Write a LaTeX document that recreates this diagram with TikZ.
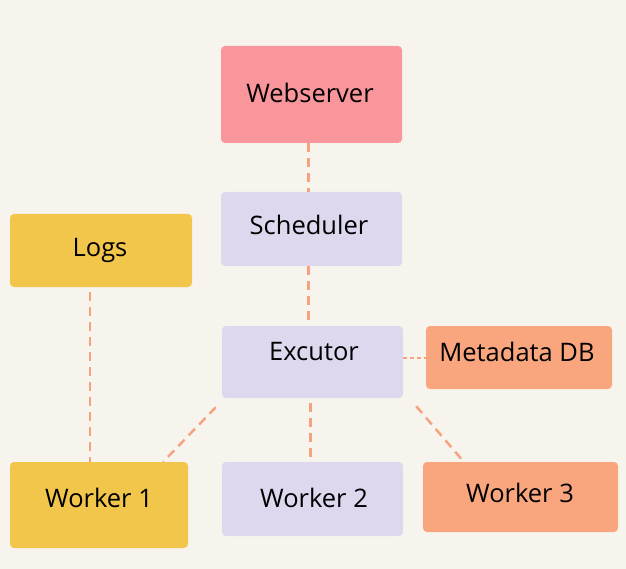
\documentclass[tikz,border=0pt]{standalone}
\usepackage{fontspec}
\setmainfont{Open Sans}
\usetikzlibrary{calc}
\definecolor{bgc}{HTML}{F7F4ED}
\definecolor{pinkc}{HTML}{F9969B}
\definecolor{lavc}{HTML}{DDD8EE}
\definecolor{yelc}{HTML}{F2C54B}
\definecolor{orac}{HTML}{F9A67F}
\definecolor{linec}{HTML}{F5A27E}
\begin{document}
\begin{tikzpicture}[x=1pt,y=-1pt,
  box/.style={draw=none,rounded corners=4pt,inner sep=0pt},
  lbl/.style={font=\fontsize{25.5}{30}\selectfont,text=black,inner sep=0pt},
  conn/.style={draw=linec,line width=2.4pt,dash pattern=on 9pt off 6pt}]
\fill[bgc] (0,0) rectangle (626,569);
\useasboundingbox (0,0) rectangle (626,569);
% boxes
\node[box,fill=pinkc,minimum width=181pt,minimum height=97pt] (web) at (311.5,94.5) {};
\node[box,fill=lavc,minimum width=181pt,minimum height=74pt] (sch) at (311.5,229) {};
\node[box,fill=yelc,minimum width=182pt,minimum height=73pt] (logs) at (101,250.5) {};
\node[box,fill=lavc,minimum width=181pt,minimum height=72pt] (exc) at (312.5,362) {};
\node[box,fill=orac,minimum width=186pt,minimum height=63pt] (meta) at (519,357.5) {};
\node[box,fill=yelc,minimum width=178pt,minimum height=86pt] (w1) at (99,505) {};
\node[box,fill=lavc,minimum width=181pt,minimum height=74pt] (w2) at (312.5,499) {};
\node[box,fill=orac,minimum width=195pt,minimum height=70pt] (w3) at (520.5,497) {};
% labels
\node[lbl] (webt) at (310,93) {Webserver};
\node[lbl] (scht) at (309,225) {Scheduler};
\node[lbl] (logst) at (100,250) {Logs};
\node[lbl] (exct) at (314,352) {Excutor};
\node[lbl] (metat) at (517,352) {Metadata DB};
\node[lbl] (w1t) at (99,498) {Worker 1};
\node[lbl] (w2t) at (314,498) {Worker 2};
\node[lbl] (w3t) at (520,493) {Worker 3};
% connectors
\draw[conn] ($(web.south)+(-3,0)$) -- ($(sch.north)+(-3,0)$);
\draw[conn] ($(sch.south)+(-3,0)$) -- ($(exc.north)+(-4,0)$);
\draw[conn] ($(logs.south west)+(80,5)$) -- ($(w1.north west)+(80,0)$);
\draw[conn,dash pattern=on 4pt off 3pt,line width=1.2pt] (exc.east) ++(0,-4) -- ($(meta.west)+(0,0.5)$);
\draw[conn] ($(exc.south west)+(-6,9)$) -- ($(w1.north east)+(-25,0)$);
\draw[conn] ($(exc.south)+(-2,5)$) -- ($(w2.north)+(-2,0)$);
\draw[conn] ($(exc.south east)+(13,8)$) -- ($(w3.north west)+(41,0)$);
\end{tikzpicture}
\end{document}
